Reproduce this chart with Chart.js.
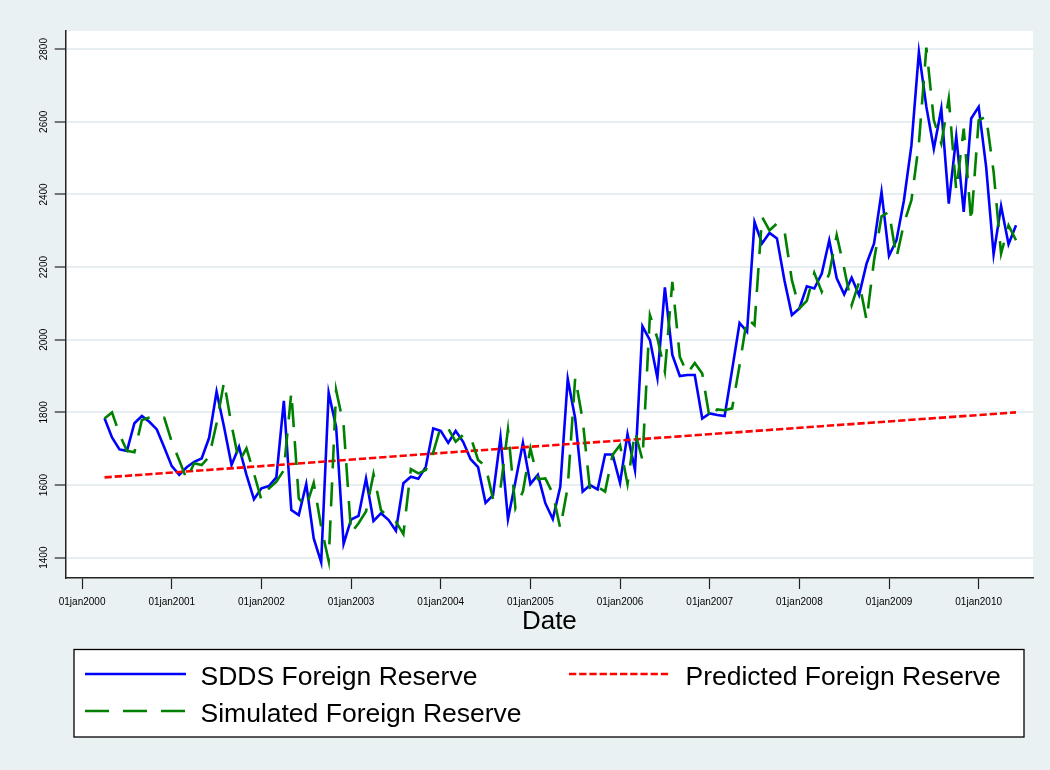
<!DOCTYPE html>
<html><head><meta charset="utf-8">
<script src="https://cdn.jsdelivr.net/npm/chart.js@4.4.0/dist/chart.umd.min.js"></script>
<style>html,body{margin:0;padding:0;background:#eaf1f3;}#wrap{width:1050px;height:770px;position:relative;}</style>
</head><body><div id="wrap"><canvas id="c" width="1050" height="770"></canvas></div>
<script>
// ---- data (monthly, first observation April 2000) ----
const startYear = 2000, startMonth = 4;
const sdds = [1784,1731,1698,1694,1770,1790,1774,1753,1703,1652,1628,1649,1664,1673,1730,1857,1760,1655,1705,1628,1561,1591,1597,1621,
1832,1531,1517,1603,1453,1387,1854,1760,1438,1505,1515,1618,1501,1522,1504,1474,1605,1623,1617,1650,1756,1749,1716,1749,
1719,1671,1649,1551,1572,1731,1506,1610,1716,1603,1628,1550,1506,1595,1892,1783,1582,1600,1588,1684,1684,1606,1740,1641,
2037,1999,1895,2144,1958,1900,1903,1903,1783,1797,1793,1790,1917,2046,2022,2324,2265,2294,2279,2164,2068,2086,2147,2141,
2182,2274,2169,2125,2171,2123,2210,2265,2407,2231,2274,2384,2535,2792,2641,2526,2636,2375,2560,2352,2609,2641,2476,2235,
2368,2263,2315];
const simulated = [1783,1800,1740,1694,1690,1779,1786,1790,1785,1719,1668,1616,1660,1655,1678,1770,1884,1765,1664,1701,1632,1559,1590,1609,
1641,1855,1563,1540,1606,1485,1391,1861,1765,1467,1495,1527,1630,1531,1511,1499,1465,1644,1632,1641,1690,1760,1756,1719,
1738,1733,1669,1652,1561,1591,1753,1536,1582,1701,1616,1618,1577,1481,1595,1896,1779,1582,1595,1582,1683,1710,1603,1747,
1669,2068,2004,1912,2159,1953,1907,1936,1907,1783,1808,1806,1811,1930,2059,2040,2338,2301,2320,2301,2164,2086,2107,2184,
2132,2182,2288,2196,2095,2159,2054,2219,2340,2352,2226,2320,2384,2540,2804,2604,2540,2664,2411,2581,2324,2604,2615,2462,
2237,2315,2274];
const predDates = ['2000-04','2002-03','2004-03','2006-09','2008-04','2010-06'];
const predicted = [1621,1655,1691,1734,1762,1800];
const yTicks = [1400,1600,1800,2000,2200,2400,2600,2800];
const xTickYears = [2000,2001,2002,2003,2004,2005,2006,2007,2008,2009,2010];
const seriesNames = ['SDDS Foreign Reserve','Predicted Foreign Reserve','Simulated Foreign Reserve'];
const xTitle = 'Date';

// ---- helpers ----
const dateToX = s => { const [y,m] = s.split('-').map(Number); return y + (m-1)/12; };
const monthX = i => startYear + (startMonth-1+i)/12;
const sddsPts = sdds.map((v,i)=>({x:monthX(i),y:v}));
const simPts = simulated.map((v,i)=>({x:monthX(i),y:v}));
const predPts = predicted.map((v,i)=>({x:dateToX(predDates[i]),y:v}));

const BG = '#eaf1f3', GRID = '#e6eef1';
const BLUE = '#0000ff', RED = '#ff0000', GREEN = '#008000';
const FONT = '"Liberation Sans", Arial, sans-serif';
const GREEN_DASH = [24,14], RED_DASH = [7.3,2.9];

const deco = {
  id:'deco',
  beforeDraw(chart){
    const {ctx, chartArea:a} = chart;
    ctx.save();
    ctx.fillStyle = BG; ctx.fillRect(0,0,chart.width,chart.height);
    ctx.fillStyle = '#fff'; ctx.fillRect(a.left,a.top,a.right-a.left,a.bottom-a.top);
    ctx.restore();
  },
  afterDraw(chart){
    const {ctx, chartArea:a} = chart;
    const ys = chart.scales.y;
    ctx.save();
    // y tick labels (rotated)
    ctx.fillStyle = '#000';
    ctx.font = '10px ' + FONT;
    ctx.textAlign = 'center'; ctx.textBaseline = 'alphabetic';
    yTicks.forEach(v => {
      const py = ys.getPixelForValue(v);
      ctx.save(); ctx.translate(46.5, py); ctx.rotate(-Math.PI/2);
      ctx.fillText(String(v), 0, 0); ctx.restore();
    });
    // axis title
    ctx.font = '26px ' + FONT;
    ctx.fillText(xTitle, (a.left+a.right)/2, 628.5);
    // legend
    const L = 74, T = 649.5, R = 1024, B = 737;
    ctx.fillStyle = '#fff'; ctx.fillRect(L,T,R-L,B-T);
    ctx.strokeStyle = '#000'; ctx.lineWidth = 1.3; ctx.strokeRect(L,T,R-L,B-T);
    const sample = (x0,x1,y,color,dash) => {
      ctx.beginPath(); ctx.setLineDash(dash); ctx.strokeStyle = color; ctx.lineWidth = 2.6;
      ctx.moveTo(x0,y); ctx.lineTo(x1,y); ctx.stroke(); ctx.setLineDash([]);
    };
    sample(85,186,674,BLUE,[]);
    sample(569,669,674,RED,RED_DASH);
    sample(85,186,711,GREEN,GREEN_DASH);
    ctx.fillStyle = '#000'; ctx.font = '26.5px ' + FONT; ctx.textAlign = 'left';
    ctx.fillText(seriesNames[0], 200.5, 685);
    ctx.fillText(seriesNames[1], 685.5, 685);
    ctx.fillText(seriesNames[2], 200.5, 722);
    ctx.restore();
  }
};

new Chart(document.getElementById('c'), {
  type:'line',
  data:{datasets:[
    {label:seriesNames[0], data:sddsPts, borderColor:BLUE, borderWidth:2.6, pointRadius:0, tension:0, order:3},
    {label:seriesNames[1], data:predPts, borderColor:RED, borderWidth:2.6, borderDash:RED_DASH, pointRadius:0, tension:0, order:2},
    {label:seriesNames[2], data:simPts, borderColor:GREEN, borderWidth:2.6, borderDash:GREEN_DASH, pointRadius:0, tension:0, order:1}
  ]},
  options:{
    responsive:false, animation:false, devicePixelRatio:1,
    layout:{padding:{left:0,top:31,right:17,bottom:0}},
    plugins:{legend:{display:false}, tooltip:{enabled:false}},
    scales:{
      x:{type:'linear', min:1999.817, max:2010.606,
        afterBuildTicks(s){ s.ticks = xTickYears.map(v=>({value:v})); },
        afterFit(s){ s.height = 192; },
        grid:{drawOnChartArea:false, drawTicks:true, tickLength:11, tickColor:'#222', tickWidth:1.2},
        border:{display:true, color:'#222', width:1.5},
        ticks:{autoSkip:false, maxRotation:0, minRotation:0, padding:7, color:'#000',
          font:{family:FONT, size:10}, callback:v=>'01jan'+v}
      },
      y:{type:'linear', min:1344, max:2850,
        afterBuildTicks(s){ s.ticks = yTicks.map(v=>({value:v})); },
        afterFit(s){ s.width = 65.7; },
        grid:{color:GRID, lineWidth:2, drawTicks:true, tickLength:11, tickColor:'#222', tickWidth:1.2},
        border:{display:true, color:'#222', width:1.5},
        ticks:{display:false}
      }
    }
  },
  plugins:[deco]
});
</script></body></html>
